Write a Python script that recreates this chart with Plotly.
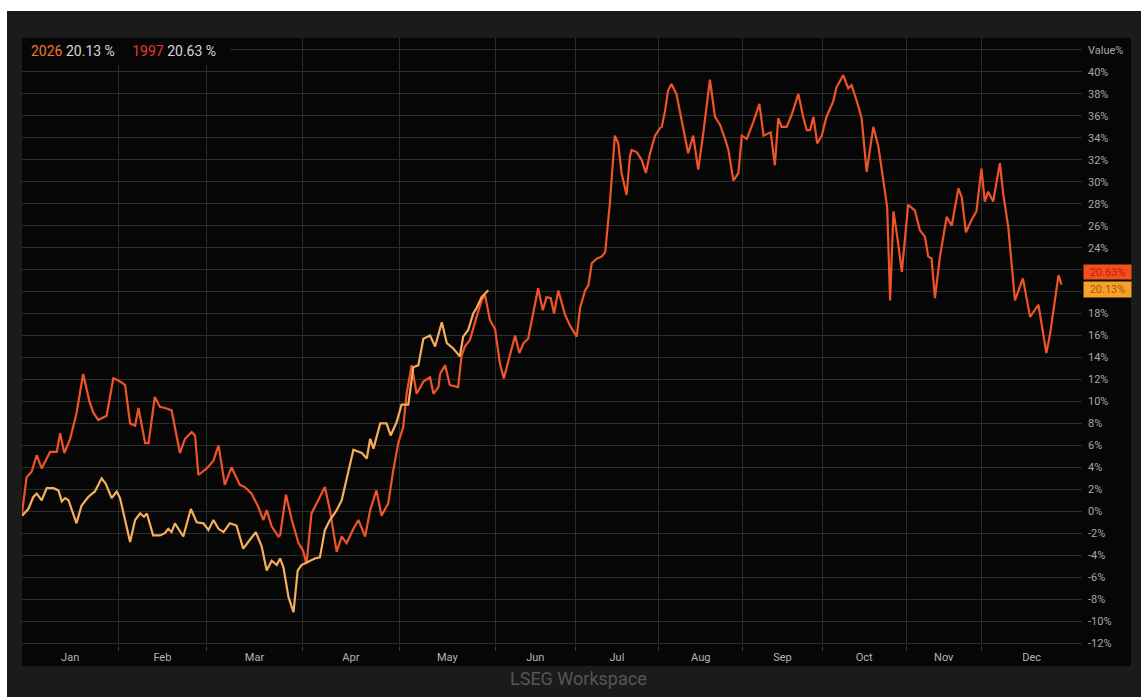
import plotly.graph_objects as go
import numpy as np

# ---------------- data ----------------
months = ["Jan", "Feb", "Mar", "Apr", "May", "Jun", "Jul", "Aug", "Sep", "Oct", "Nov", "Dec"]
# trading days per month as laid out on the chart's index axis
month_lengths = [23, 21, 23, 23, 23, 19, 20, 20, 19, 20, 18, 24]

# 1997 series: trading-day index and cumulative % change
x_1997 = [0, 1.1, 2.3, 3.5, 4.7, 5.5, 6.7, 8.3, 9.1, 10.1, 11.5, 13.0, 14.6, 16.1, 17.0, 18.2, 20.2, 21.8, 23.0, 24.6,
          25.8, 27.0, 27.8, 29.4, 30.2, 31.7, 32.9, 34.1, 35.7, 37.7, 38.9, 40.5, 41.3, 42.1, 44.1, 45.7, 46.9, 48.4,
          50.0, 52.0, 53.2, 54.8, 56.4, 57.6, 58.4, 59.6, 61.2, 61.6, 63.0, 64.4, 66.0, 67.1, 67.9, 69.1, 70.3, 72.3,
          73.5, 75.1, 76.3, 77.5, 79.1, 80.3, 81.9, 83.1, 84.6, 85.8, 87.4, 88.6, 89.8, 91.0, 91.8, 93.0, 94.2, 95.8,
          97.4, 98.2, 99.4, 99.8, 101.0, 102.1, 104.1, 104.9, 105.7, 106.9, 108.5, 109.7, 110.5, 111.7, 112.9, 114.1,
          115.0, 116.1, 117.7, 118.7, 119.7, 120.8, 122.0, 123.2, 124.3, 125.2, 126.2, 127.0, 128.0, 129.6, 130.8,
          132.4, 133.2, 134.4, 135.2, 136.0, 137.2, 138.4, 139.2, 140.3, 141.5, 142.3, 143.1, 144.3, 145.1, 145.5,
          146.7, 147.9, 148.9, 149.9, 151.1, 152.3, 152.7, 153.5, 154.2, 155.0, 156.2, 157.4, 159.0, 160.2, 161.4,
          162.6, 164.2, 165.4, 166.6, 167.8, 168.6, 169.8, 171.0, 171.8, 173.0, 174.6, 176.0, 177.0, 178.7, 179.7,
          180.5, 181.3, 182.5, 183.7, 185.3, 186.5, 187.3, 188.1, 188.9, 189.8, 190.9, 192.0, 193.0, 193.6, 194.4,
          196.0, 197.2, 198.0, 199.2, 200.4, 201.6, 203.2, 204.4, 206.0, 206.5, 207.2, 208.0, 208.8, 210.0, 211.5,
          213.1, 214.3, 215.5, 216.3, 217.1, 217.9, 219.1, 220.7, 221.9, 223.5, 224.3, 225.3, 226.6, 227.8, 229.0,
          229.8, 230.6, 231.8, 233.4, 234.2, 235.4, 237.0, 238.9, 240.6, 242.6, 244.5, 245.4, 247.4, 248.1]
y_1997 = [-0.2, 3.1, 3.6, 5.1, 3.9, 4.5, 5.4, 5.4, 7.1, 5.3, 6.6, 8.9, 12.5, 10.0, 9.0, 8.3, 8.7, 12.1, 11.9, 11.5,
          8.0, 7.8, 9.4, 6.2, 6.2, 10.4, 9.5, 9.4, 9.2, 5.3, 6.6, 7.2, 6.9, 3.3, 3.9, 4.6, 6.0, 2.4,
          4.0, 2.4, 2.2, 1.6, 0.4, -0.8, 0.1, -1.4, -2.3, -2.2, 1.5, -0.8, -2.9, -3.6, -4.8, -0.2, 0.7, 2.2,
          0.1, -3.7, -2.3, -2.9, -1.6, -0.8, -2.3, 0.1, 1.9, -0.4, 0.7, 3.7, 6.2, 7.7, 10.7, 13.3, 10.7, 11.8,
          12.2, 10.7, 11.3, 12.5, 13.3, 11.5, 11.3, 14.1, 15.0, 15.6, 17.7, 19.2, 19.7, 17.4, 16.6, 13.4,
          12.1, 13.8, 16.0, 14.4, 15.3, 15.7, 18.0, 20.3, 18.3, 19.5, 19.4, 18.0, 20.1, 17.9, 16.9,
          15.9, 18.5, 20.1, 20.6, 22.6, 23.0, 23.2, 23.6, 28.0, 34.2, 33.5, 30.8, 28.8, 32.3, 32.9,
          32.7, 32.0, 30.8, 32.6, 34.2, 34.9, 35.0, 36.5, 38.3, 38.9, 38.0, 35.8, 32.6, 34.2, 31.1,
          34.4, 39.3, 35.9, 35.2, 33.9, 32.9, 30.1, 30.8, 34.2, 33.9, 35.5, 37.1, 34.2, 34.5, 31.5,
          35.8, 35.0, 35.0, 36.1, 38.0, 35.8, 34.7, 34.7, 35.9, 33.5, 34.2, 35.9, 36.8, 37.3, 38.6,
          39.7, 38.5, 38.8, 37.4, 35.8, 30.9, 35.0, 33.2, 28.9, 27.7, 19.2, 27.3, 25.3, 21.8, 27.9,
          27.4, 25.6, 25.0, 23.2, 23.0, 19.4, 23.2, 26.8, 26.0, 29.4, 28.6, 25.4, 26.5, 27.3, 31.2,
          28.2, 29.1, 28.2, 31.7, 28.9, 25.9, 19.2, 21.2, 17.7, 18.8, 14.4, 16.2, 21.5, 20.63]

# 2026 series
x_2026 = [0, 1.5, 2.7, 3.5, 4.7, 5.9, 7.5, 8.7, 9.5, 10.3, 11.1, 13.0, 14.2, 15.8, 17.4, 19.0, 20.0, 21.4, 22.6, 23.4,
          25.8, 27.0, 28.2, 29.1, 29.8, 31.3, 32.9, 34.1, 34.9, 35.7, 36.5, 38.5, 40.3, 41.7, 43.3, 44.5, 45.7, 46.9,
          48.1, 49.6, 51.2, 52.8, 54.4, 55.8, 57.2, 58.4, 59.6, 60.8, 61.6, 62.4, 63.6, 64.8, 65.8, 66.7, 68.3, 69.9,
          71.1, 72.3, 73.5, 75.1, 76.3, 77.9, 79.1, 81.1, 82.3, 83.1, 83.9, 85.5, 87.0, 88.0, 89.4, 90.6, 92.2, 93.4,
          94.6, 95.8, 97.4, 98.6, 100.2, 101.4, 103.0, 104.5, 105.3, 106.5, 107.7, 108.5, 109.7, 111.3]
y_2026 = [-0.4, 0.2, 1.3, 1.6, 1.0, 2.1, 2.1, 1.9, 0.9, 1.2, 1.0, -1.1, 0.5, 1.3, 1.8, 3.0, 2.5, 1.2, 1.8, 1.2,
          -2.8, -0.8, -0.2, -0.5, -0.2, -2.2, -2.2, -2.0, -1.6, -1.9, -1.1, -2.3, 0.2, -1.0, -1.1, -1.7, -0.8, -1.6,
          -1.9, -1.1, -1.3, -3.4, -2.6, -1.9, -3.2, -5.4, -4.5, -4.9, -4.3, -5.1, -7.8, -9.2, -5.4, -4.9, -4.6, -4.3,
          -4.2, -1.7, -0.8, 0.1, 1.0, 3.7, 5.6, 5.3, 4.8, 6.6, 5.7, 8.0, 8.0, 6.9, 8.1, 9.7, 9.7, 13.1,
          13.3, 15.7, 16.0, 15.0, 17.2, 15.3, 14.8, 14.1, 15.9, 16.5, 18.0, 18.5, 19.5, 20.13]

last_1997 = 20.63
last_2026 = 20.13
y_tick_values = list(range(-12, 43, 2))
hidden_ticks = [20, 22]  # covered by the last-value badges in the reference

# ---------------- layout constants ----------------
W, H = 1141, 697
L, R, T, B = 22, 59, 38, 52
PW, PH = W - L - R, H - T - B

C_1997 = "#ef5428"
C_2026 = "#f6ad5c"
GRID = "#2c2c2c"
FONT = "Roboto, Inter, Arial, sans-serif"


def pxx(px):
    return (px - L) / PW


def pxy(py):
    return (H - B - py) / PH


def tick_label(v):
    if v == 42:
        return "Value%"
    if v in hidden_ticks:
        return ""
    return f"{v}%"


bounds = np.concatenate([[0], np.cumsum(month_lengths)])
mids = (bounds[:-1] + bounds[1:]) / 2

fig = go.Figure()
fig.add_trace(go.Scatter(x=x_1997, y=y_1997, mode="lines", name="1997",
                         line=dict(color=C_1997, width=2.2), hoverinfo="skip"))
fig.add_trace(go.Scatter(x=x_2026, y=y_2026, mode="lines", name="2026",
                         line=dict(color=C_2026, width=2.2), hoverinfo="skip"))

shapes = [
    # white page borders
    dict(type="rect", xref="paper", yref="paper", x0=pxx(0), x1=pxx(W), y0=pxy(0), y1=pxy(11),
         fillcolor="#ffffff", line=dict(width=0), layer="below"),
    dict(type="rect", xref="paper", yref="paper", x0=pxx(0), x1=pxx(7), y0=pxy(0), y1=pxy(H),
         fillcolor="#ffffff", line=dict(width=0), layer="below"),
    # black chart panel
    dict(type="rect", xref="paper", yref="paper", x0=pxx(22), x1=pxx(1131), y0=pxy(38), y1=pxy(666),
         fillcolor="#060606", line=dict(width=0), layer="below"),
    # legend box background
    dict(type="rect", xref="paper", yref="paper", x0=pxx(22), x1=pxx(230), y0=pxy(38), y1=pxy(65),
         fillcolor="#060606", line=dict(width=0), layer="above"),
]

nb = "\u00a0"
annotations = [
    dict(xref="paper", yref="paper", x=pxx(29), y=pxy(51), xanchor="left", yanchor="middle",
         showarrow=False, font=dict(family=FONT, size=14, color="#d8d8d8"),
         text=f"<span style='color:#f07a30'>2026</span>{nb}20.13{nb}%{nb}{nb}{nb}{nb}{nb}"
              f"<span style='color:#e23a2a'>1997</span>{nb}20.63{nb}%"),
    dict(xref="paper", yref="y", x=1, y=last_1997, xanchor="left", yanchor="middle", xshift=1, yshift=13,
         showarrow=False, text=f"{last_1997:.2f}%", bgcolor="#f4501c", width=47, height=14, borderpad=0,
         font=dict(family=FONT, size=11, color="#c01c14")),
    dict(xref="paper", yref="y", x=1, y=last_2026, xanchor="left", yanchor="middle", xshift=1, yshift=1,
         showarrow=False, text=f"{last_2026:.2f}%", bgcolor="#f5a22c", width=47, height=15, borderpad=0,
         font=dict(family=FONT, size=11, color="#b4500a")),
    dict(xref="paper", yref="paper", x=pxx(578), y=pxy(678), xanchor="center", yanchor="middle",
         showarrow=False, text="LSEG Workspace", font=dict(family=FONT, size=18, color="#565656")),
]

fig.update_layout(
    width=W, height=H,
    margin=dict(l=L, r=R, t=T, b=B, pad=0),
    paper_bgcolor="#1b1b1b",
    plot_bgcolor="#060606",
    showlegend=False,
    shapes=shapes,
    annotations=annotations,
    font=dict(family=FONT),
    xaxis=dict(
        range=[0, bounds[-1]],
        tickmode="array", tickvals=list(mids), ticktext=months,
        ticks="", showgrid=False, zeroline=False, showline=False,
        tickfont=dict(family=FONT, size=11, color="#b4b4b4"),
        ticklabelstandoff=4,
        minor=dict(tickmode="array", tickvals=list(bounds[1:-1]), showgrid=True, gridcolor=GRID,
                   gridwidth=1, ticks="outside", ticklen=5, tickcolor="#3a3a3a"),
        fixedrange=True,
    ),
    yaxis=dict(
        side="right",
        range=[-12.18, 43.09],
        tickmode="array", tickvals=y_tick_values,
        ticktext=[tick_label(v) for v in y_tick_values],
        showgrid=True, gridcolor=GRID, gridwidth=1,
        zeroline=False, showline=False, ticks="",
        tickfont=dict(family=FONT, size=11, color="#a8a8a8"),
        ticklabelstandoff=5,
        fixedrange=True,
    ),
)

fig.write_html("out.html", config={"displayModeBar": False},
               post_script="document.body.style.margin='0px';document.body.style.overflow='hidden';")
